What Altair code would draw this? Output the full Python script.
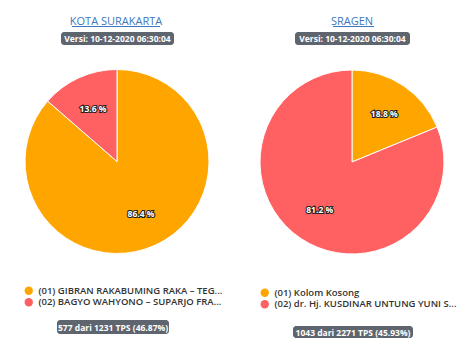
import altair as alt
import pandas as pd

# ---- data ----
left_title = "KOTA SURAKARTA"
left_labels = ["(01) GIBRAN RAKABUMING RAKA – TEG...", "(02) BAGYO WAHYONO – SUPARJO FRA..."]
left_values = [86.4, 13.6]
left_footer = "577 dari 1231 TPS (46.87%)"

right_title = "SRAGEN"
right_labels = ["(01) Kolom Kosong", "(02) dr. Hj. KUSDINAR UNTUNG YUNI S..."]
right_values = [18.8, 81.2]
right_footer = "1043 dari 2271 TPS (45.93%)"

version = "Versi: 10-12-2020 06:30:04"
colors = ["#FFA500", "#FF6163"]

FONT = "Open Sans"
W, H = 216, 340


def panel(title, labels, values, footer, cx, cy, ul, vb, fb, leg_y):
    df = pd.DataFrame({"cand": labels, "pct": values,
                       "lbl": [f"{v:.1f} %" for v in values],
                       "ord": list(range(len(labels)))})
    base = alt.Chart(df)
    arc = base.mark_arc(radius=92, stroke="white", strokeWidth=1).encode(
        theta=alt.Theta("pct:Q", stack=True),
        order=alt.Order("ord:Q"),
        color=alt.Color("cand:N",
                        scale=alt.Scale(domain=labels, range=colors),
                        legend=alt.Legend(orient="none", legendX=16, legendY=leg_y,
                                          title=None, symbolType="circle",
                                          symbolSize=70, symbolStrokeWidth=0,
                                          labelFont=FONT, labelFontSize=9.5,
                                          labelFontWeight=600, labelColor="#333",
                                          labelLimit=190, rowPadding=0.5,
                                          labelOffset=5)),
        x=alt.value(cx), y=alt.value(cy),
    )
    # label position: middle of each slice (cumulative share minus half)
    lab = base.transform_window(
        cum="sum(pct)", sort=[alt.SortField("ord")]
    ).transform_calculate(mid="datum.cum - datum.pct / 2")
    txt_kw = dict(radius=58, fontSize=8.5, fontWeight="bold", font=FONT, baseline="middle")
    enc = dict(theta=alt.Theta("mid:Q", stack=None), text="lbl:N",
               x=alt.value(cx), y=alt.value(cy))
    t_out = lab.mark_text(stroke="#222", strokeWidth=2.2, fill="#222", **txt_kw).encode(**enc)
    t_in = lab.mark_text(fill="white", **txt_kw).encode(**enc)

    tdf = pd.DataFrame({"t": [title]})
    ttl = alt.Chart(tdf).mark_text(font=FONT, fontSize=11, color="#3b78c0",
                                   baseline="alphabetic").encode(
        text="t:N", x=alt.value(W / 2), y=alt.value(17))
    uline = alt.Chart(tdf).mark_rule(color="#3b78c0", strokeWidth=1).encode(
        x=alt.value(ul[0]), x2=alt.value(ul[1]), y=alt.value(18.5))

    vdf = pd.DataFrame({"t": [version]})
    vrect = alt.Chart(vdf).mark_rect(color="#5f656e", cornerRadius=3).encode(
        x=alt.value(vb[0]), x2=alt.value(vb[1]), y=alt.value(vb[2]), y2=alt.value(vb[3]))
    vtxt = alt.Chart(vdf).mark_text(color="white", font=FONT, fontSize=8.5,
                                    fontWeight="bold", baseline="middle").encode(
        text="t:N", x=alt.value((vb[0] + vb[1]) / 2), y=alt.value((vb[2] + vb[3]) / 2 + 0.5))

    fdf = pd.DataFrame({"t": [footer]})
    frect = alt.Chart(fdf).mark_rect(color="#5f656e", cornerRadius=3).encode(
        x=alt.value(fb[0]), x2=alt.value(fb[1]), y=alt.value(fb[2]), y2=alt.value(fb[3]))
    ftxt = alt.Chart(fdf).mark_text(color="white", font=FONT, fontSize=8.5,
                                    fontWeight="bold", baseline="middle").encode(
        text="t:N", x=alt.value((fb[0] + fb[1]) / 2), y=alt.value((fb[2] + fb[3]) / 2 + 0.5))

    return alt.layer(arc, t_out, t_in, ttl, uline, vrect, vtxt, frect, ftxt).properties(
        width=W, height=H)


left = panel(left_title, left_labels, left_values, left_footer, 109, 153.5,
             (64, 152), (53, 166, 24, 37), (49, 161, 312, 326), 278)
right = panel(right_title, right_labels, right_values, right_footer, 108, 154,
              (89, 130), (51, 166, 24, 37), (49, 169, 318, 330), 280)

chart = alt.hconcat(left, right, spacing=20).resolve_scale(
    color="independent", theta="independent").resolve_legend(color="independent").properties(
    padding=0, background="white").configure_view(stroke=None)

chart.save("out.html", embed_options={"renderer": "svg", "actions": False})
